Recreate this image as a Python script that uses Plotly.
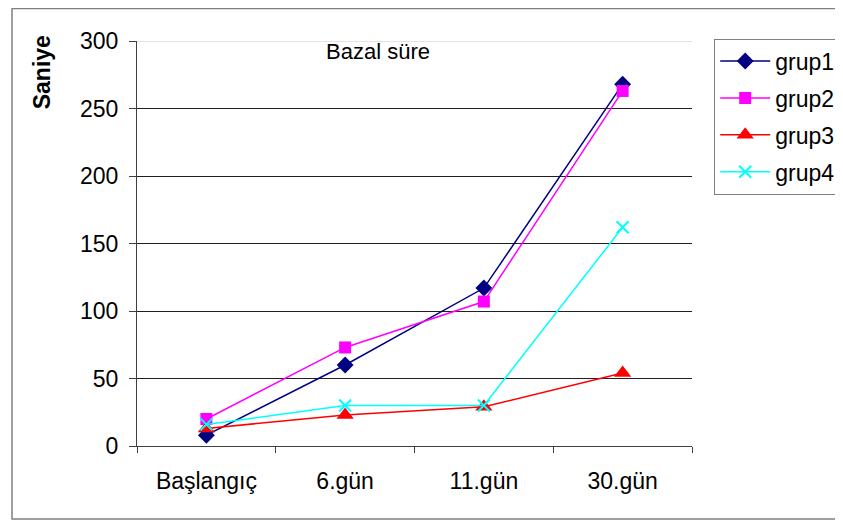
import plotly.graph_objects as go

categories = ["Başlangıç", "6.gün", "11.gün", "30.gün"]
grup1 = [8, 60, 117, 268]
grup2 = [20, 73, 107, 263]
grup3 = [13, 23, 29, 54]
grup4 = [16, 30, 30, 162]
series_names = ["grup1", "grup2", "grup3", "grup4"]
y_ticks = [0, 50, 100, 150, 200, 250, 300]

FONT = "Liberation Sans, Arial, sans-serif"

styles = [
    dict(color="#000080", symbol="diamond", size=13),
    dict(color="#FF00FF", symbol="square", size=12),
    dict(color="#FF0000", symbol="triangle-up", size=15),
    dict(color="#00FFFF", symbol="x-thin", size=12),
]

fig = go.Figure()
for name, vals, st in zip(series_names, [grup1, grup2, grup3, grup4], styles):
    marker = dict(color=st["color"], symbol=st["symbol"], size=st["size"])
    if st["symbol"] == "x-thin":
        marker["line"] = dict(color=st["color"], width=2)
    fig.add_trace(go.Scatter(
        x=categories, y=vals, name=name, mode="lines+markers",
        line=dict(color=st["color"], width=1.5),
        marker=marker, legendgroup=name,
    ))

fig.update_layout(
    width=835, height=513,
    margin=dict(l=129, r=151, t=33, b=75, autoexpand=False),
    paper_bgcolor="white", plot_bgcolor="white",
    font=dict(family=FONT, size=23, color="black"),
    showlegend=True,
    legend=dict(
        x=1.04, y=1.006, xanchor="left", yanchor="top",
        bordercolor="#808080", borderwidth=1, bgcolor="white",
        font=dict(family=FONT, size=23, color="black"),
        tracegroupgap=4, traceorder="grouped", itemwidth=50,
    ),
    xaxis=dict(
        type="category", range=[-0.5, 3.5],
        showgrid=False, showline=True, linecolor="#404040", linewidth=1,
        ticks="outside", tickson="boundaries", ticklen=6, tickcolor="#404040",
        ticklabelstandoff=14, zeroline=False,
    ),
    yaxis=dict(
        range=[0, 300], tickvals=y_ticks,
        showgrid=True, gridcolor="#202020", gridwidth=1,
        showline=True, linecolor="#404040", linewidth=1,
        ticks="outside", ticklen=7, tickcolor="#404040",
        ticklabelstandoff=6, zeroline=False,
    ),
    annotations=[
        dict(text="<b>Saniye</b>", x=-0.171, y=0.923, xref="paper", yref="paper",
             xanchor="center", yanchor="middle",
             textangle=-90, showarrow=False, font=dict(family=FONT, size=23)),
        dict(text="Bazal süre", x=0.434, y=0.9736, xref="paper", yref="paper",
             xanchor="center", yanchor="middle",
             showarrow=False, font=dict(family=FONT, size=22)),
    ],
    shapes=[
        dict(type="line", xref="paper", yref="y", x0=0, x1=1, y0=300, y1=300,
             line=dict(color="#c8c8c8", width=1), layer="above"),
        dict(type="rect", xref="paper", yref="paper",
             x0=(4 - 129) / 555, x1=(850 - 129) / 555,
             y0=(438 - 511) / 405, y1=(438 - 0.5) / 405,
             line=dict(color="#808080", width=1.5), layer="below"),
    ],
)

fig.write_html("out.html")
